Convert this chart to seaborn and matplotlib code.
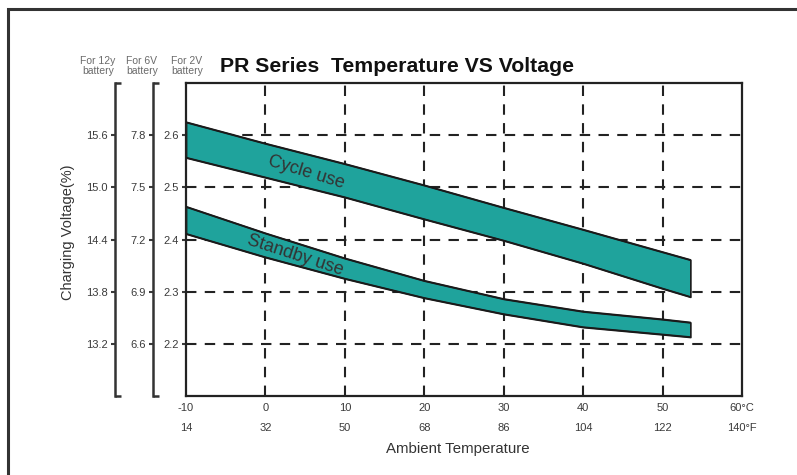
import numpy as np
import pandas as pd
import matplotlib
matplotlib.use("Agg")
import matplotlib.pyplot as plt
from matplotlib.patches import Rectangle
import seaborn as sns

# ---- data (2V-cell scale) ----
temp_c = [-10, 0, 10, 20, 30, 40, 50, 53.5]
cycle_hi = [2.625, 2.584, 2.545, 2.504, 2.461, 2.419, 2.376, 2.361]
cycle_lo = [2.557, 2.519, 2.481, 2.439, 2.398, 2.354, 2.306, 2.290]
standby_hi = [2.463, 2.412, 2.364, 2.321, 2.286, 2.262, 2.247, 2.241]
standby_lo = [2.411, 2.366, 2.325, 2.288, 2.257, 2.232, 2.218, 2.213]

x_ticks_c = [-10, 0, 10, 20, 30, 40, 50, 60]
x_labels_c = ["-10", "0", "10", "20", "30", "40", "50", "60°C"]
x_labels_f = ["14", "32", "50", "68", "86", "104", "122", "140°F"]
y_ticks_2v = [2.2, 2.3, 2.4, 2.5, 2.6]
y_labels_2v = ["2.2", "2.3", "2.4", "2.5", "2.6"]
y_labels_6v = ["6.6", "6.9", "7.2", "7.5", "7.8"]
y_labels_12v = ["13.2", "13.8", "14.4", "15.0", "15.6"]

sns.set_theme(style="white")
plt.rcParams["font.family"] = ["Liberation Sans", "DejaVu Sans"]

TEAL = "#1fa39c"
EDGE = "#1a1a1a"
GREY = "#3a3a3a"

fig = plt.figure(figsize=(7.97, 4.75), dpi=100)
ax = fig.add_axes([186 / 797, 1 - 396 / 475, (742 - 186) / 797, (396 - 83) / 475])

df = pd.DataFrame({"t": temp_c, "c_hi": cycle_hi, "c_lo": cycle_lo,
                   "s_hi": standby_hi, "s_lo": standby_lo})

# grid
ax.set_xlim(-10, 60)
ax.set_ylim(2.1, 2.7)
for xv in x_ticks_c[1:-1]:
    ax.axvline(xv, color="#222", lw=1.5, ls=(0, (5, 4)), zorder=1)
for yv in y_ticks_2v:
    ax.axhline(yv, color="#222", lw=1.5, ls=(0, (5, 4)), zorder=1)

# bands
ax.fill_between(df["t"], df["c_lo"], df["c_hi"], facecolor=TEAL, edgecolor=EDGE, lw=1.2, zorder=2)
ax.fill_between(df["t"], df["s_lo"], df["s_hi"], facecolor=TEAL, edgecolor=EDGE, lw=1.2, zorder=2)
for col in ["c_hi", "c_lo", "s_hi", "s_lo"]:
    sns.lineplot(data=df, x="t", y=col, ax=ax, color=EDGE, lw=1.2, zorder=3)

ax.text(5.1, 2.529, "Cycle use", rotation=-17, fontsize=13, color="#333",
        ha="center", va="center", zorder=4)
ax.text(3.7, 2.370, "Standby use", rotation=-18, fontsize=13, color="#333",
        ha="center", va="center", zorder=4)

# main axis styling
for s in ax.spines.values():
    s.set_visible(True)
    s.set_color("#222")
    s.set_linewidth(1.6)
ax.set_xlabel("")
ax.set_ylabel("")
ax.set_xticks(x_ticks_c)
ax.set_xticklabels(x_labels_c)
ax.tick_params(axis="x", length=0, pad=5, labelsize=8, labelcolor=GREY)
ax.set_yticks(y_ticks_2v)
ax.set_yticklabels(y_labels_2v)
ax.tick_params(axis="y", direction="out", length=3, width=1.5, color=GREY,
               pad=2, labelsize=8, labelcolor=GREY, left=True)

# Fahrenheit row
secx = ax.secondary_xaxis(-20 / 313, functions=(lambda v: v, lambda v: v))
secx.set_xticks(x_ticks_c)
secx.set_xticklabels(x_labels_f)
secx.tick_params(length=0, pad=5, labelsize=8, labelcolor=GREY)
secx.spines["bottom"].set_visible(False)

# extra y scales (6V and 12V)
W = 742 - 186
for pos_px, factor, labels in [(153, 3, y_labels_6v), (115, 6, y_labels_12v)]:
    loc = (pos_px - 186) / W
    sec = ax.secondary_yaxis(loc, functions=(lambda v, f=factor: v * f, lambda v, f=factor: v / f))
    sec.set_yticks([t * factor for t in y_ticks_2v])
    sec.set_yticklabels(labels)
    sec.tick_params(direction="out", length=3, width=1.5, color=GREY, pad=2,
                    labelsize=8, labelcolor=GREY)
    sec.spines["left"].set_color("#333")
    sec.spines["left"].set_linewidth(1.8)
    # bracket serifs
    for yy in (0.0, 1.0):
        ax.plot([loc, loc + 6 / W], [yy, yy], transform=ax.transAxes, color="#333",
                lw=1.8, clip_on=False, solid_capstyle="butt")

# headers
for xc, txt in [(98, "For 12y\nbattery"), (142, "For 6V\nbattery"), (187, "For 2V\nbattery")]:
    fig.text(xc / 797, 1 - 66 / 475, txt, ha="center", va="center", fontsize=7.5,
             color="#6a6a6a", linespacing=1.0)

fig.text(220 / 797, 1 - 66 / 475, "PR Series  Temperature VS Voltage", ha="left", va="center",
         fontsize=15.3, fontweight="bold", color="#111")

fig.text(68 / 797, 1 - 232 / 475, "Charging Voltage(%)", rotation=90, ha="center", va="center",
         fontsize=10.5, color="#333")
fig.text(458 / 797, 1 - 449 / 475, "Ambient Temperature", ha="center", va="center",
         fontsize=10.8, color="#333")

# outer frame
fig.patches.append(Rectangle((8 / 797, -0.2), 1.2, 1.2 - 9 / 475, transform=fig.transFigure,
                             fill=False, edgecolor="#333", lw=2.2))

fig.savefig("out.png", dpi=100)
